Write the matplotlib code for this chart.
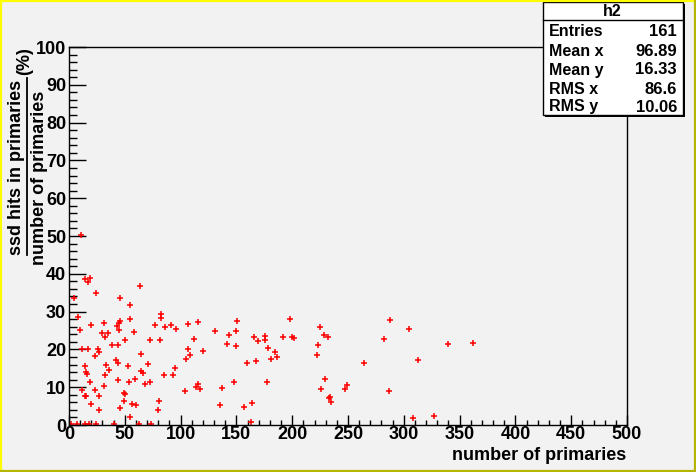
import matplotlib.pyplot as plt
from matplotlib.patches import Rectangle
from matplotlib.lines import Line2D
from matplotlib.ticker import MultipleLocator

plt.rcParams['font.family'] = ['Liberation Sans', 'DejaVu Sans']
plt.rcParams['font.weight'] = 'bold'

# data: number of primaries vs. ssd hit fraction (%)
n_primaries = [
    10.8, 14.3, 19.1, 17.3, 63.9, 24.2, 4.2, 46.0, 55.0, 8.4,
    55.0, 82.4, 82.4, 45.4, 45.1, 31.7, 20.0, 43.0, 9.6, 45.1,
    58.5, 77.3, 86.3, 91.4, 96.2, 106.3, 115.3, 29.3, 32.3, 34.7,
    50.5, 72.9, 81.8, 112.3, 38.8, 44.2, 11.3, 16.7, 26.3, 27.2,
    106.9, 23.6, 64.5, 108.1, 104.8, 42.4, 43.6, 14.3, 33.4, 70.5,
    53.1, 95.3, 15.5, 16.4, 36.1, 64.5, 66.3, 32.5, 85.4, 92.9,
    19.1, 44.2, 54.0, 59.4, 72.3, 67.8, 31.7, 115.3, 114.1, 117.6,
    11.9, 23.3, 104.2, 14.3, 14.9, 27.2, 49.6, 50.5, 49.6, 80.9,
    20.0, 56.2, 59.7, 27.2, 46.0, 80.0, 55.0,
    1.8, 7.2, 14.3, 18.2, 24.2, 40.6, 63.0, 73.5,
    150.8, 131.1, 149.9, 143.6, 141.9, 149.9, 120.3, 166.0, 169.0, 175.9,
    175.9, 178.6, 184.9, 186.7, 181.3, 192.0, 198.3, 200.1, 201.9, 167.8,
    159.8, 225.2, 228.8, 232.4, 223.4, 222.5, 229.7, 226.1, 233.2, 234.1,
    235.0, 137.4, 148.1, 177.7, 135.6, 157.1, 164.2, 163.4,
    287.9, 305.0, 282.5, 339.9, 362.3, 264.6, 313.0, 249.4, 247.6, 287.0,
    308.5, 327.4,
]
hit_fraction = [
    50.3, 38.5, 38.8, 37.8, 36.8, 34.9, 33.5, 33.5, 31.7, 28.7,
    28.0, 29.4, 28.2, 27.5, 26.9, 26.9, 26.4, 26.2, 25.1, 25.1,
    24.5, 26.4, 25.8, 26.5, 25.3, 26.6, 27.2, 24.3, 23.4, 24.3,
    22.4, 22.4, 22.4, 22.8, 21.1, 21.1, 20.0, 20.0, 20.0, 19.3,
    20.1, 18.2, 18.7, 18.6, 17.4, 17.1, 16.5, 15.6, 15.8, 16.1,
    15.6, 15.1, 14.0, 13.4, 14.5, 14.4, 13.8, 13.1, 13.1, 13.1,
    11.3, 11.8, 11.5, 12.1, 11.3, 10.8, 10.3, 10.8, 10.0, 9.5,
    9.2, 9.2, 8.9, 7.8, 7.6, 7.8, 8.4, 8.1, 6.3, 6.3,
    5.6, 5.6, 5.2, 3.9, 4.4, 3.9, 2.0,
    0.2, 0.2, 0.2, 0.2, 0.2, 0.2, 0.2, 0.2,
    27.5, 24.9, 24.9, 23.7, 21.3, 20.8, 19.6, 23.2, 22.2, 23.5,
    22.4, 20.3, 19.2, 17.9, 17.4, 23.2, 28.0, 23.2, 22.9, 16.8,
    16.3, 25.8, 23.7, 23.2, 21.1, 18.4, 12.3, 9.4, 7.2, 7.4,
    6.0, 9.7, 11.5, 11.3, 5.2, 4.7, 5.7, 0.7,
    27.7, 25.3, 22.7, 21.3, 21.6, 16.3, 17.1, 10.5, 9.4, 8.9,
    1.8, 2.3,
]

stat_names = ['Entries', 'Mean x', 'Mean y', 'RMS x', 'RMS y']
stat_values = ['161', '96.89', '16.33', '86.6', '10.06']

bg = '#f2f2f2'
fig = plt.figure(figsize=(6.96, 4.72), dpi=100, facecolor=bg)
W, H = 696.0, 472.0

def fx(px):
    return px / W

def fy(py):
    return 1 - py / H

# canvas border (yellow top/left, olive bottom/right)
fig.add_artist(Line2D([fx(1), fx(1)], [0, 1], color='#ffff00', lw=1.6))
fig.add_artist(Line2D([0, 1], [fy(1), fy(1)], color='#ffff00', lw=1.6))
fig.add_artist(Line2D([fx(695), fx(695)], [0, 1], color='#b5b500', lw=1.6))
fig.add_artist(Line2D([0, 1], [fy(471), fy(471)], color='#b5b500', lw=1.6))

ax = fig.add_axes([fx(69), fy(425), fx(627) - fx(69), fy(47) - fy(425)])
ax.set_facecolor(bg)
ax.plot(n_primaries, hit_fraction, linestyle='none', marker='+', color='red',
        markersize=4.8, markeredgewidth=1.1)
ax.set_xlim(0, 500)
ax.set_ylim(0, 100)

ax.xaxis.set_major_locator(MultipleLocator(50))
ax.xaxis.set_minor_locator(MultipleLocator(10))
ax.yaxis.set_major_locator(MultipleLocator(10))
ax.yaxis.set_minor_locator(MultipleLocator(2))
ax.tick_params(axis='both', which='both', direction='in', top=False, right=False,
               width=1, color='black')
ax.tick_params(axis='x', which='major', length=7.5, pad=1, labelsize=13)
ax.tick_params(axis='x', which='minor', length=3.8)
ax.tick_params(axis='y', which='major', length=12.5, pad=2, labelsize=13)
ax.tick_params(axis='y', which='minor', length=6)
for lab in ax.get_xticklabels() + ax.get_yticklabels():
    lab.set_fontweight('bold')
for s in ax.spines.values():
    s.set_linewidth(1)

fig.text(fx(626), fy(455), 'number of primaries', ha='right', va='center',
         fontsize=13, fontweight='bold')

# y title as a fraction
fig.text(fx(17), fy(167), 'ssd hits in primaries', rotation=90, ha='center',
         va='center', fontsize=13, fontweight='bold')
fig.text(fx(40), fy(178), 'number of primaries', rotation=90, ha='center',
         va='center', fontsize=13, fontweight='bold')
fig.add_artist(Line2D([fx(26.5), fx(26.5)], [fy(255), fy(78)], color='black', lw=1.3))
fig.text(fx(25), fy(61), '(%)', rotation=90, ha='center', va='center',
         fontsize=13, fontweight='bold')

# stats box
fig.add_artist(Rectangle((fx(545), fy(117)), fx(683) - fx(543), fy(2) - fy(115),
                         facecolor='black', edgecolor='none'))
fig.add_artist(Rectangle((fx(543), fy(115)), fx(683) - fx(543), fy(2) - fy(115),
                         facecolor='white', edgecolor='black', lw=1))
fig.add_artist(Line2D([fx(543), fx(683)], [fy(20), fy(20)], color='black', lw=1))
fig.text(fx(612), fy(11), 'h2', ha='center', va='center', fontsize=11.5,
         fontweight='bold')
row_y = [32, 52, 70, 90, 107]
for name, val, yy in zip(stat_names, stat_values, row_y):
    fig.text(fx(549), fy(yy), name, ha='left', va='center', fontsize=11.5,
             fontweight='bold')
    fig.text(fx(677), fy(yy), val, ha='right', va='center', fontsize=12,
             fontweight='bold')

fig.savefig('out.png', dpi=100, facecolor=bg)
